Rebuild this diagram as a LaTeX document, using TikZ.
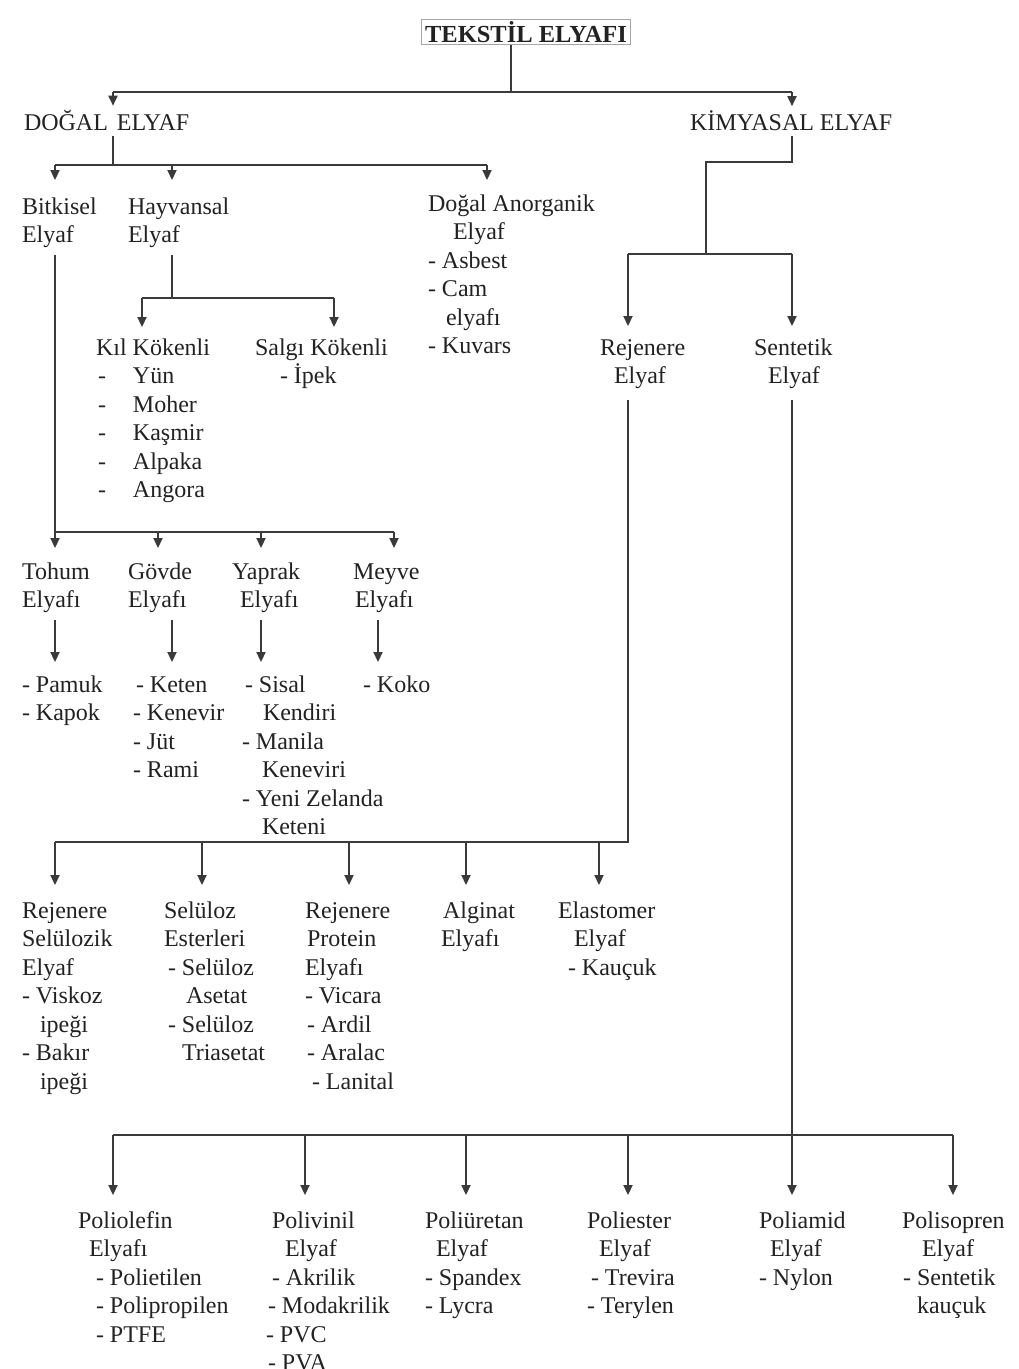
\documentclass[tikz,border=0pt]{standalone}
\usepackage{fontspec}
\setmainfont{Liberation Serif}
\usetikzlibrary{arrows.meta}
\definecolor{ink}{HTML}{222222}
\definecolor{lineclr}{HTML}{3A3A3A}
\newcommand{\blk}[1]{\begin{tabular}[t]{@{}l@{}}#1\end{tabular}}
\newcommand{\ind}[1]{\hspace*{#1pt}}
\newcommand{\dsh}[1]{\makebox[37pt][l]{\hspace*{2pt}-}#1}
\begin{document}
\begin{tikzpicture}[x=1pt,y=-1pt,
  txt/.style={anchor=base west, inner sep=0pt, outer sep=0pt,
    font=\fontsize{24}{28.5}\selectfont, text=ink},
  ln/.style={draw=lineclr, line width=1.8pt},
  arr/.style={ln, -{Triangle[width=9pt,length=10pt]}}]
\useasboundingbox (0,0) rectangle (1019,1369);
\fill[white] (0,0) rectangle (1019,1369);

% ---------- nodes ----------
\node[draw=gray!70, line width=1.5pt, minimum width=209pt, minimum height=25pt,
  inner sep=0pt, text=ink, font=\bfseries\fontsize{24.5}{28}\selectfont] (title) at (526,32) {TEKSTİL ELYAFI};

\node[txt] (dogal) at (24,130) {DOĞAL\hspace{3pt} ELYAF};
\node[txt] (kimya) at (690,130) {KİMYASAL ELYAF};

\node[txt] (bitki) at (22,214) {\blk{Bitkisel\\Elyaf}};
\node[txt] (hayvan) at (128,214) {\blk{Hayvansal\\Elyaf}};
\node[txt] (anorg) at (428,211) {\blk{Doğal Anorganik\\\ind{25}Elyaf\\- Asbest\\- Cam\\\ind{18}elyafı\\- Kuvars}};

\node[txt] (rejen) at (600,355) {\blk{Rejenere\\\ind{14}Elyaf}};
\node[txt] (sentet) at (754,355) {\blk{Sentetik\\\ind{14}Elyaf}};

\node[txt] (kil) at (96,355) {\blk{Kıl Kökenli\\\dsh{Yün}\\\dsh{Moher}\\\dsh{Kaşmir}\\\dsh{Alpaka}\\\dsh{Angora}}};
\node[txt] (salgi) at (255,355) {\blk{Salgı Kökenli\\\ind{25}- İpek}};

\node[txt] (tohum) at (22,579) {\blk{Tohum\\Elyafı}};
\node[txt] (govde) at (128,579) {\blk{Gövde\\Elyafı}};
\node[txt] (yaprak) at (232,579) {\blk{Yaprak\\\ind{8}Elyafı}};
\node[txt] (meyve) at (353,579) {\blk{Meyve\\\ind{2}Elyafı}};

\node[txt] (tohumL) at (22,692) {\blk{- Pamuk\\- Kapok}};
\node[txt] (govdeL) at (133,692) {\blk{\ind{3}- Keten\\- Kenevir\\- Jüt\\- Rami}};
\node[txt] (yaprakL) at (242,692) {\blk{\ind{3}- Sisal\\\ind{21}Kendiri\\- Manila\\\ind{20}Keneviri\\- Yeni Zelanda\\\ind{20}Keteni}};
\node[txt] (meyveL) at (363,692) {\blk{- Koko}};

\node[txt] (rsel) at (22,918) {\blk{Rejenere\\Selülozik\\Elyaf\\- Viskoz\\\ind{18}ipeği\\- Bakır\\\ind{18}ipeği}};
\node[txt] (sest) at (164,918) {\blk{Selüloz\\Esterleri\\\ind{4}- Selüloz\\\ind{22}Asetat\\\ind{4}- Selüloz\\\ind{18}Triasetat}};
\node[txt] (rprot) at (305,918) {\blk{Rejenere\\\ind{2}Protein\\Elyafı\\- Vicara\\\ind{2}- Ardil\\\ind{2}- Aralac\\\ind{7}- Lanital}};
\node[txt] (alg) at (441,918) {\blk{\ind{2}Alginat\\Elyafı}};
\node[txt] (elast) at (558,918) {\blk{Elastomer\\\ind{16}Elyaf\\\ind{10}- Kauçuk}};

\node[txt] (polio) at (78,1228) {\blk{Poliolefin\\\ind{11}Elyafı\\\ind{18}- Polietilen\\\ind{18}- Polipropilen\\\ind{18}- PTFE}};
\node[txt] (poliv) at (266,1228) {\blk{\ind{6}Polivinil\\\ind{19}Elyaf\\\ind{6}- Akrilik\\\ind{2}- Modakrilik\\- PVC\\\ind{2}- PVA}};
\node[txt] (poliu) at (425,1228) {\blk{Poliüretan\\\ind{11}Elyaf\\- Spandex\\- Lycra}};
\node[txt] (polie) at (587,1228) {\blk{Poliester\\\ind{12}Elyaf\\\ind{4}- Trevira\\- Terylen}};
\node[txt] (polia) at (759,1228) {\blk{Poliamid\\\ind{11}Elyaf\\- Nylon}};
\node[txt] (polis) at (902,1228) {\blk{Polisopren\\\ind{20}Elyaf\\\ind{1}- Sentetik\\\ind{15}kauçuk}};

% ---------- coordinates ----------
\coordinate (t1) at (511,92);  \coordinate (t1l) at (113,92);  \coordinate (t1r) at (792,92);
\coordinate (d1) at (113,165); \coordinate (d1l) at (55,165);  \coordinate (d1m) at (172,165); \coordinate (d1r) at (487,165);
\coordinate (k1) at (706,162); \coordinate (k2) at (706,254);  \coordinate (k2l) at (628,254); \coordinate (k2r) at (792,254);
\coordinate (h1) at (172,298); \coordinate (h1l) at (142,298); \coordinate (h1r) at (334,298);
\coordinate (b1) at (55,532);  \coordinate (b1b) at (158,532); \coordinate (b1c) at (261,532); \coordinate (b1r) at (394,532);
\coordinate (g1) at (172,620); \coordinate (m1) at (378,620);
\coordinate (r1) at (628,842); \coordinate (r1l) at (55,842);  \coordinate (r1b) at (202,842); \coordinate (r1c) at (349,842);
\coordinate (r1d) at (466,842); \coordinate (r1e) at (599,842);
\coordinate (s1) at (792,1135); \coordinate (s1l) at (113,1135); \coordinate (s1b) at (305,1135);
\coordinate (s1c) at (466,1135); \coordinate (s1d) at (628,1135); \coordinate (s1r) at (953,1135);

% ---------- connectors ----------
\draw[ln] (title.south -| t1) -- (t1);
\draw[ln] (t1l) -- (t1r);
\draw[arr, shorten >=4pt] (t1l) -- (t1l |- dogal.north);
\draw[arr, shorten >=4pt] (t1r) -- (t1r |- kimya.north);

\draw[ln, shorten <=6pt] (dogal.south -| d1) -- (d1);
\draw[ln] (d1l) -- (d1r);
\draw[arr, shorten >=14pt] (d1l) -- (d1l |- bitki.north);
\draw[arr, shorten >=14pt] (d1m) -- (d1m |- hayvan.north);
\draw[arr, shorten >=11pt] (d1r) -- (d1r |- anorg.north);

\draw[ln, shorten <=6pt] (kimya.south -| k2r) |- (k1) -- (k2);
\draw[ln] (k2l) -- (k2r);
\draw[arr, shorten >=9pt] (k2l) -- (k2l |- rejen.north);
\draw[arr, shorten >=9pt] (k2r) -- (k2r |- sentet.north);

\draw[ln, shorten <=4pt] (hayvan.south -| h1) -- (h1);
\draw[ln] (h1l) -- (h1r);
\draw[arr, shorten >=8pt] (h1l) -- (h1l |- kil.north);
\draw[arr, shorten >=8pt] (h1r) -- (h1r |- salgi.north);

\draw[ln, shorten <=4pt] (bitki.south -| b1) -- (b1);
\draw[ln] (b1) -- (b1r);
\draw[arr, shorten >=11pt] (b1) -- (b1 |- tohum.north);
\draw[arr, shorten >=11pt] (b1b) -- (b1b |- govde.north);
\draw[arr, shorten >=11pt] (b1c) -- (b1c |- yaprak.north);
\draw[arr, shorten >=11pt] (b1r) -- (b1r |- meyve.north);

\draw[arr, shorten <=4pt, shorten >=10pt] (b1 |- tohum.south) -- (b1 |- tohumL.north);
\draw[arr, shorten <=4pt, shorten >=10pt] (g1 |- govde.south) -- (g1 |- govdeL.north);
\draw[arr, shorten <=4pt, shorten >=10pt] (b1c |- yaprak.south) -- (b1c |- yaprakL.north);
\draw[arr, shorten <=4pt, shorten >=10pt] (m1 |- meyve.south) -- (m1 |- meyveL.north);

\draw[ln, shorten <=8pt] (rejen.south -| r1) -- (r1) -- (r1l);
\draw[arr, shorten >=13pt] (r1l) -- (r1l |- rsel.north);
\draw[arr, shorten >=13pt] (r1b) -- (r1b |- sest.north);
\draw[arr, shorten >=13pt] (r1c) -- (r1c |- rprot.north);
\draw[arr, shorten >=13pt] (r1d) -- (r1d |- alg.north);
\draw[arr, shorten >=13pt] (r1e) -- (r1e |- elast.north);

\draw[ln] (s1l) -- (s1r);
\draw[arr, shorten <=8pt, shorten >=13pt] (sentet.south -| s1) -- (s1 |- polia.north);
\draw[arr, shorten >=13pt] (s1l) -- (s1l |- polio.north);
\draw[arr, shorten >=13pt] (s1b) -- (s1b |- poliv.north);
\draw[arr, shorten >=13pt] (s1c) -- (s1c |- poliu.north);
\draw[arr, shorten >=13pt] (s1d) -- (s1d |- polie.north);
\draw[arr, shorten >=13pt] (s1r) -- (s1r |- polis.north);
\end{tikzpicture}
\end{document}
